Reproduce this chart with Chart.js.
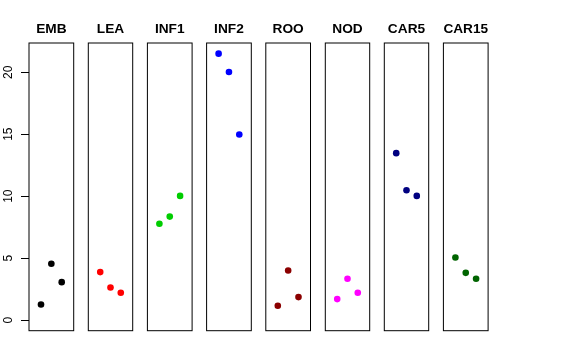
<!DOCTYPE html>
<html>
<head>
<meta charset="utf-8">
<script src="https://cdn.jsdelivr.net/npm/chart.js@4/dist/chart.umd.min.js"></script>
<style>
  html, body { margin: 0; padding: 0; background: #ffffff; }
  #wrap { position: relative; width: 576px; height: 360px; overflow: hidden; background: #fff; }
  canvas { position: absolute; top: 0; }
</style>
</head>
<body>
<div id="wrap"></div>
<script>
// ---- data ----
const categories = ['EMB', 'LEA', 'INF1', 'INF2', 'ROO', 'NOD', 'CAR5', 'CAR15'];
const colors = ['#000000', '#FF0000', '#00CD00', '#0000FF', '#8B0000', '#FF00FF', '#000080', '#006400'];
const xPositions = [1, 2, 3];
const valuesEMB   = [1.26, 4.54, 3.06];
const valuesLEA   = [3.87, 2.63, 2.20];
const valuesINF1  = [7.77, 8.35, 10.02];
const valuesINF2  = [21.50, 20.02, 14.97];
const valuesROO   = [1.15, 4.00, 1.85];
const valuesNOD   = [1.69, 3.33, 2.20];
const valuesCAR5  = [13.47, 10.48, 10.02];
const valuesCAR15 = [5.05, 3.81, 3.33];
const seriesValues = [valuesEMB, valuesLEA, valuesINF1, valuesINF2, valuesROO, valuesNOD, valuesCAR5, valuesCAR15];
const yTickValues = [0, 5, 10, 15, 20];

// ---- layout ----
const FONT = '"Liberation Sans", Arial, Helvetica, sans-serif';
const yMin = -0.86, yMax = 22.36;
const xMin = -0.16, xMax = 4.16;
const panelLeft0 = 29, panelStep = 59.2, panelWidth = 44.7;
const areaTop = 43, areaBottom = 330.7;
const canvasH = 336;

const framePlugin = {
  id: 'frame',
  afterDraw(chart) {
    const a = chart.chartArea, ctx = chart.ctx;
    ctx.save();
    ctx.strokeStyle = '#000';
    ctx.lineWidth = 1;
    ctx.strokeRect(a.left, a.top, a.right - a.left, a.bottom - a.top);
    ctx.restore();
  }
};

const wrap = document.getElementById('wrap');

categories.forEach((cat, i) => {
  const left = panelLeft0 + panelStep * i;
  const right = left + panelWidth;
  const first = i === 0;
  const canvasLeft = first ? 0 : Math.floor(left) - 3;
  const canvasW = Math.ceil(right) + 3 - canvasLeft;
  const padLeft = first ? 0 : left - canvasLeft;
  const padRight = canvasLeft + canvasW - right;
  const cv = document.createElement('canvas');
  cv.width = canvasW; cv.height = canvasH;
  cv.style.left = canvasLeft + 'px';
  cv.style.width = canvasW + 'px';
  cv.style.height = canvasH + 'px';
  wrap.appendChild(cv);

  new Chart(cv, {
    type: 'scatter',
    data: {
      datasets: [{
        data: xPositions.map((x, k) => ({ x: x, y: seriesValues[i][k] })),
        backgroundColor: colors[i],
        borderWidth: 0,
        pointRadius: 3.3,
        pointHoverRadius: 3.3,
        showLine: false
      }]
    },
    options: {
      responsive: false,
      animation: false,
      devicePixelRatio: 1,
      layout: { padding: { left: padLeft, right: padRight, top: 0, bottom: canvasH - areaBottom } },
      plugins: {
        legend: { display: false },
        tooltip: { enabled: false },
        title: {
          display: true,
          text: cat,
          fullSize: false,
          color: '#000',
          font: { family: FONT, size: 13.7, weight: 'bold', lineHeight: 1.2 },
          padding: { top: 21.2, bottom: areaTop - 21.2 - 13.7 * 1.2 }
        }
      },
      scales: {
        x: { type: 'linear', min: xMin, max: xMax, display: false },
        y: {
          type: 'linear', min: yMin, max: yMax,
          display: first,
          afterBuildTicks: (s) => { s.ticks = yTickValues.map(v => ({ value: v })); },
          afterFit: (s) => {
            if (first) { s.width = panelLeft0; s.paddingTop = 0; s.paddingBottom = 0; }
            else { s.width = 0; }
          },
          border: { display: false },
          grid: { drawOnChartArea: false, drawTicks: true, tickLength: 8, color: '#000', lineWidth: 1 },
          ticks: {
            color: '#000',
            font: { family: FONT, size: 12 },
            minRotation: 90, maxRotation: 90,
            crossAlign: 'center',
            padding: 6,
            callback: (v) => String(v)
          }
        }
      }
    },
    plugins: [framePlugin]
  });
});
</script>
</body>
</html>
